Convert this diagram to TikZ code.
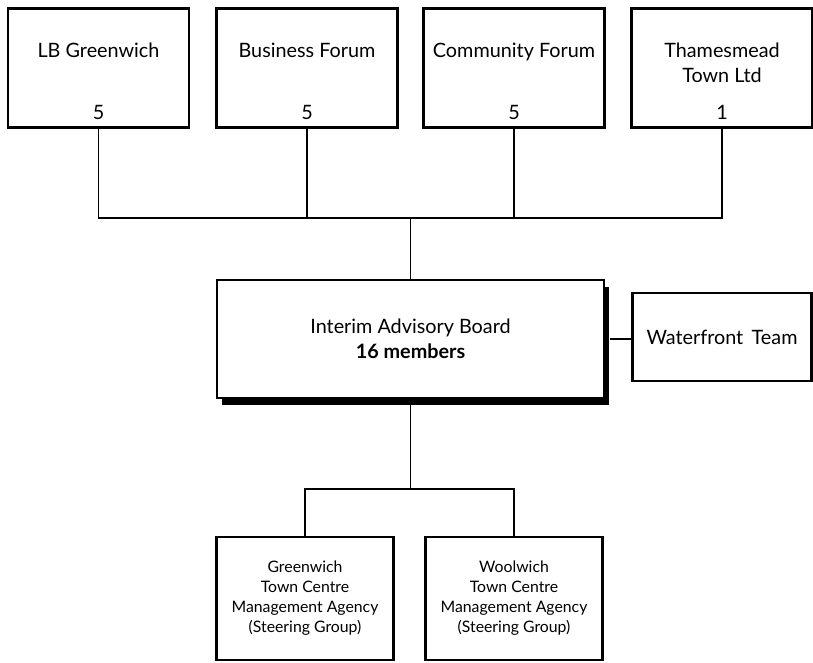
\documentclass[tikz,border=0pt]{standalone}
\usepackage{fontspec}
\setmainfont{Lato}
\usetikzlibrary{shadows}

\begin{document}
\begin{tikzpicture}[x=1pt, y=-1pt,
  box/.style={draw, line width=2.4pt, fill=white, inner sep=0pt},
  link/.style={line width=1.1pt},
  big/.style={font=\fontsize{19.8}{25}\selectfont, align=center, inner sep=0pt},
  small/.style={font=\fontsize{15.8}{20}\selectfont, align=center}]
\useasboundingbox (0,0) rectangle (813,662);

% member bodies
\foreach \nm/\cx/\txt/\num in {lbg/98.5/{LB Greenwich}/5, bus/307/{Business Forum}/5,
    com/514/{Community Forum}/5, thm/722/{Thamesmead\\Town Ltd}/1}{
  \node[box, minimum width=181pt, minimum height=119pt] (\nm) at (\cx,68) {};
  \node[big, anchor=north] (\nm-t) at (\cx,43) {\txt};
  \node[big, anchor=base] (\nm-n) at (\cx,119) {\num};
}

% board
\node[box, big, minimum width=387pt, minimum height=118pt,
  general shadow={fill=black, shadow xshift=5pt, shadow yshift=-7pt}]
  (iab) at (410.5,339) {Interim Advisory Board\\\textbf{16 members}};
\node[box, big, minimum width=179pt, minimum height=88pt] (wft) at (722,337) {Waterfront\, Team};

% agencies
\node[box, small, minimum width=177pt, minimum height=123pt] (gtc) at (305,598.5)
  {Greenwich\\Town Centre\\Management Agency\\(Steering Group)};
\node[box, small, minimum width=177pt, minimum height=123pt] (wtc) at (514,598.5)
  {Woolwich\\Town Centre\\Management Agency\\(Steering Group)};

% connectors
\coordinate (up) at (iab.north |- 0,218);
\coordinate (down) at (iab.south |- 0,489);
\draw[link] (lbg.south) |- (up) -| (thm.south);
\draw[link] (bus.south) -- (bus.south |- up);
\draw[link] (com.south) -- (com.south |- up);
\draw[link] (up) -- (iab.north);
\draw[link] (iab.south) -- (down);
\draw[link] (gtc.north) |- (down) -| (wtc.north);
\draw[link] (iab.east) ++(5pt,0) -- (iab.east -| wft.west);
\end{tikzpicture}
\end{document}
